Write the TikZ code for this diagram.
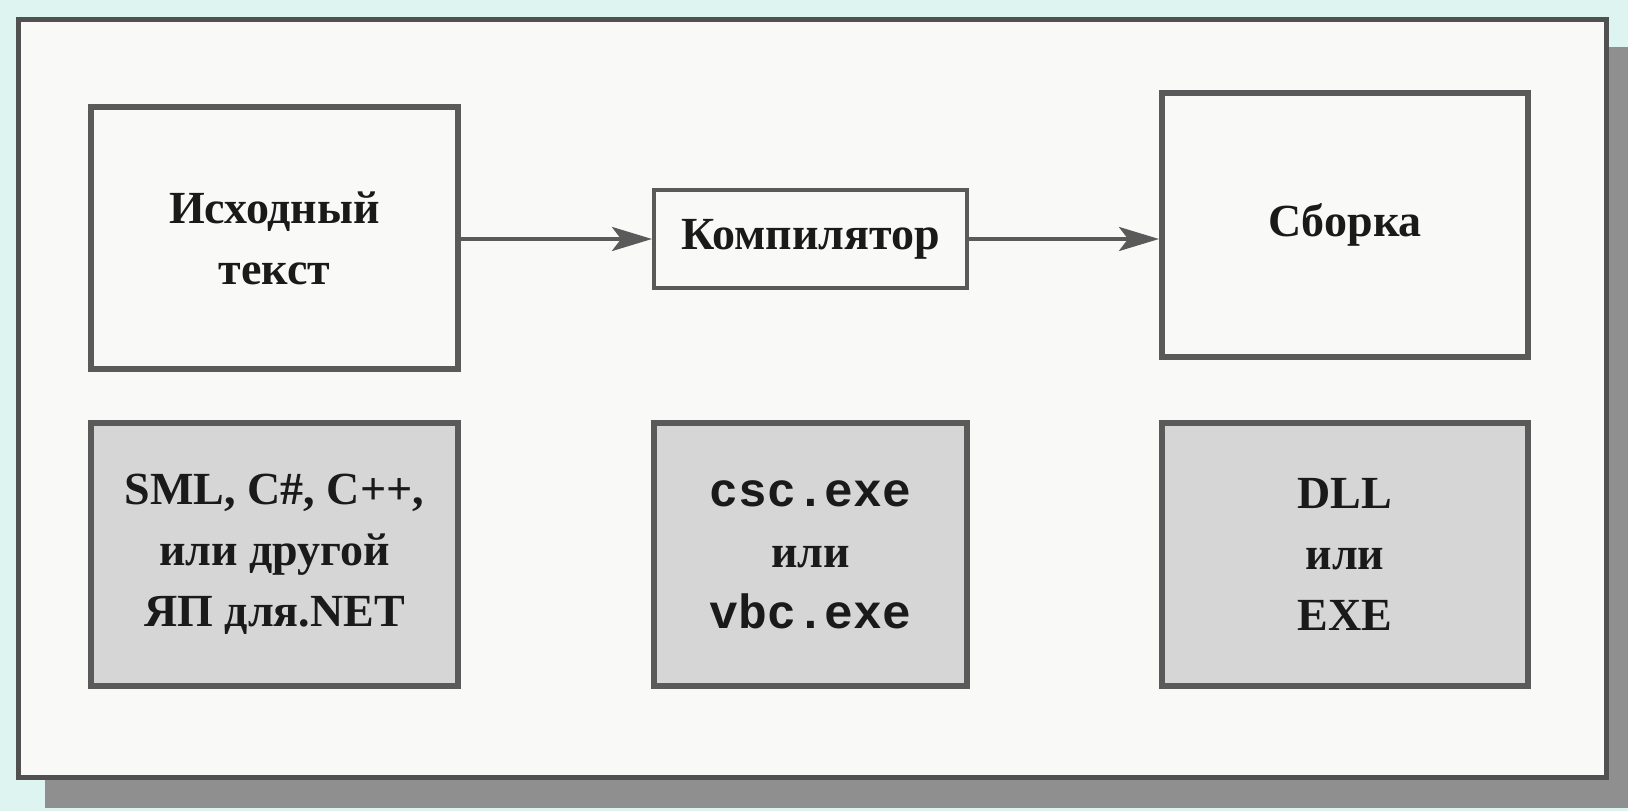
\documentclass[tikz,border=0pt]{standalone}
\usepackage{fontspec}
\setmainfont{Liberation Serif}
\setmonofont{Liberation Mono}
\usetikzlibrary{arrows.meta}
\definecolor{bgc}{HTML}{DDF4F1}
\definecolor{panel}{HTML}{F9FAF8}
\definecolor{shadowc}{HTML}{8F8F8F}
\definecolor{edge}{HTML}{5A5A5A}
\definecolor{framec}{HTML}{505050}
\definecolor{fillg}{HTML}{D6D6D6}
\definecolor{ink}{HTML}{1A1A1A}
\begin{document}
\begin{tikzpicture}[x=1pt,y=-1pt,
  whitebox/.style={draw=edge, line width=6pt, fill=panel, align=center, text=ink,
    font=\fontsize{46}{61}\selectfont\bfseries, inner sep=0pt},
  graybox/.style={whitebox, fill=fillg, minimum height=263pt},
  flow/.style={draw=edge, line width=4pt, -{Stealth[length=40pt,width=24pt,inset=9pt]}}]
\fill[bgc] (0,0) rectangle (1628,811);
\useasboundingbox (0,0) rectangle (1628,811);
\fill[shadowc] (45,47) rectangle (1628,808);
\draw[draw=framec, line width=5pt, fill=panel] (18,19) rectangle (1606,777);

\node[whitebox, minimum width=367pt, minimum height=262pt] (src) at (274.5,238) {Исходный\\текст};
\node[whitebox, line width=4pt, minimum width=313pt, minimum height=98pt] (comp) at (810.5,239) {Компилятор};
\node[whitebox, minimum width=366pt, minimum height=264pt] (asm) at (1345,225) {Сборка};

\node[graybox, minimum width=367pt] (lang) at (274.5,554.5) {SML, C\#, C++,\\или другой\\ЯП для.NET};
\node[graybox, minimum width=313pt] (tool) at (810.5,554.5)
  {{\fontsize{48}{61}\selectfont\ttfamily\bfseries csc.exe}\\или\\{\fontsize{48}{61}\selectfont\ttfamily\bfseries vbc.exe}};
\node[graybox, minimum width=366pt] (out) at (1345,554.5) {DLL\\или\\EXE};

\draw[flow] (src.east |- comp.west) -- (comp.west);
\draw[flow] (comp.east) -- (comp.east -| asm.west);
\end{tikzpicture}
\end{document}
